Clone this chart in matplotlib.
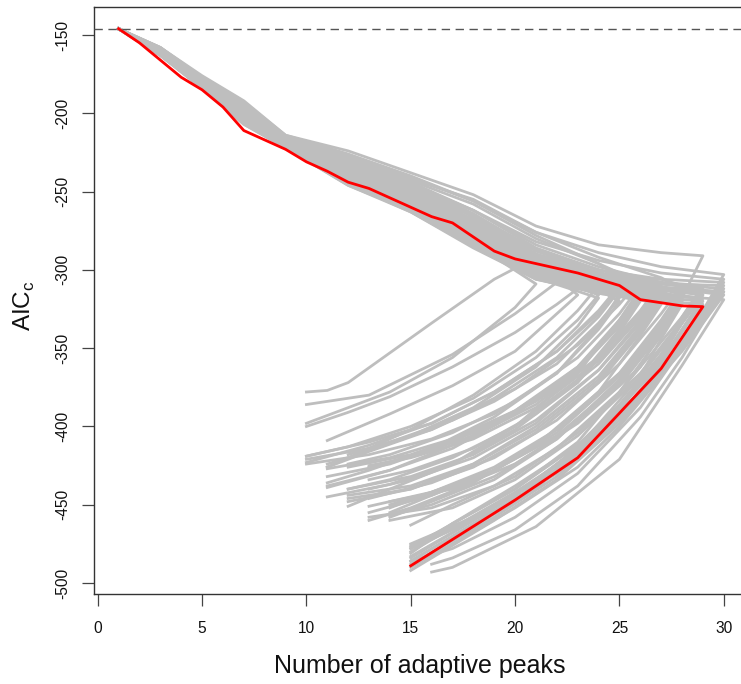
import matplotlib
matplotlib.use("Agg")
import matplotlib.pyplot as plt

plt.rcParams['font.family'] = ['Liberation Sans', 'DejaVu Sans']
plt.rcParams['mathtext.fontset'] = 'custom'
plt.rcParams['mathtext.rm'] = 'Liberation Sans'

# ---------------- data ----------------
baseline_aic = -146.2

# best run (red): forward search then backward search
red_fwd_x = list(range(1, 30))
red_fwd_y = [-146, -155, -166, -177, -185, -196, -211, -217, -223, -231,
             -237, -244, -248, -254, -260, -266, -270, -279, -288, -293,
             -296, -299, -302, -306, -310, -319, -321, -323, -323.5]
red_bwd_x = [27, 23, 20, 15]
red_bwd_y = [-363, -420, -447, -489]

# other runs (gray)
fwd_grid = [1, 3, 5, 7, 9, 12, 15, 18, 21, 24, 27]

gray_xmax = [20, 22, 23, 23, 24, 25, 25, 26, 24, 25,
             26, 26, 27, 27, 26, 27, 28, 28, 27, 28,
             28, 29, 29, 30, 29, 30, 30, 30, 29, 28,
             29, 27, 26, 21, 28, 29, 30, 27, 26, 25,
             26, 27, 28, 25, 27, 28, 29, 30, 29, 28,
             26, 25, 27, 28, 24, 26, 29, 27, 30, 29,
             30, 30, 29]
gray_top = [-299, -308, -312, -316, -316, -318, -312, -318, -310, -316,
            -314, -320, -316, -320, -312, -314, -318, -312, -322, -316,
            -320, -313, -316, -316, -320, -306, -303, -319, -310, -322,
            -291, -308, -306, -309, -315, -318, -314, -317, -315, -313,
            -310, -312, -310, -320, -318, -314, -316, -312, -314, -318,
            -316, -310, -310, -320, -318, -318, -312, -314, -310, -318,
            -308, -314, -322]
gray_fwd = [
    [-146, -160, -180, -198, -218, -232, -248, -272],
    [-146, -161, -181, -200, -219, -236, -252, -270, -298],
    [-146, -162, -182, -203, -220, -238, -255, -276, -300],
    [-146, -159, -179, -196, -216, -230, -246, -266, -294],
    [-146, -160, -181, -201, -219, -240, -258, -280, -302],
    [-146, -163, -183, -205, -221, -242, -260, -282, -304, -312],
    [-146, -158, -178, -194, -215, -228, -244, -262, -286, -300],
    [-146, -161, -182, -202, -220, -237, -254, -274, -296, -308],
    [-146, -162, -180, -199, -218, -235, -250, -268, -292],
    [-146, -160, -182, -204, -221, -244, -262, -284, -305, -312],
    [-146, -159, -179, -197, -217, -231, -247, -266, -290, -302],
    [-146, -163, -184, -206, -222, -245, -263, -285, -306, -314],
    [-146, -161, -180, -200, -219, -234, -251, -270, -292, -304],
    [-146, -162, -183, -204, -221, -241, -259, -280, -300, -311],
    [-146, -158, -177, -193, -214, -226, -240, -256, -278, -296],
    [-146, -160, -179, -198, -217, -229, -243, -258, -280, -296],
    [-146, -161, -182, -203, -220, -238, -256, -277, -298, -308, -314],
    [-146, -159, -178, -195, -216, -228, -242, -255, -276, -292, -305],
    [-146, -163, -184, -207, -222, -246, -262, -283, -304, -314],
    [-146, -160, -181, -201, -219, -236, -252, -272, -294, -306, -312],
    [-146, -162, -183, -205, -221, -243, -261, -282, -303, -313, -318],
    [-146, -159, -178, -196, -216, -230, -245, -262, -284, -298, -308],
    [-146, -161, -181, -202, -219, -239, -257, -278, -300, -309, -313],
    [-146, -160, -180, -199, -218, -233, -249, -268, -290, -303, -311],
    [-146, -162, -184, -206, -222, -244, -262, -284, -304, -313, -318],
    [-146, -159, -179, -197, -217, -232, -246, -262, -282, -294, -302],
    [-146, -158, -177, -194, -215, -227, -241, -256, -276, -289, -298],
    [-146, -161, -182, -203, -220, -240, -258, -280, -302, -311, -316],
    [-146, -160, -180, -200, -218, -235, -252, -272, -294, -304, -308],
    [-146, -163, -184, -207, -222, -246, -263, -286, -306, -315, -320],
    [-146, -158, -176, -192, -214, -224, -238, -252, -272, -284, -289],
    [-146, -160, -180, -199, -218, -233, -250, -269, -291, -302],
    [-146, -161, -181, -201, -219, -236, -253, -273, -295, -303],
    [-146, -162, -183, -204, -221, -242, -260, -283],
    [-146, -160, -181, -200, -219, -237, -255, -275, -297, -307, -312],
    [-146, -161, -182, -202, -220, -240, -258, -279, -301, -310, -315],
    [-146, -159, -179, -198, -217, -234, -250, -270, -292, -304, -311],
    [-146, -162, -182, -203, -220, -239, -256, -276, -298, -309],
    [-146, -160, -180, -200, -218, -236, -252, -271, -294, -306],
    [-146, -161, -181, -202, -219, -238, -255, -276, -298, -308],
    [-146, -160, -180, -199, -218, -234, -251, -270, -292, -302],
    [-146, -161, -181, -201, -219, -236, -253, -272, -294, -304],
    [-146, -159, -179, -198, -217, -232, -248, -266, -288, -300, -306],
    [-146, -162, -183, -204, -221, -242, -260, -281, -303, -313],
    [-146, -160, -181, -201, -219, -238, -256, -277, -299, -310],
    [-146, -161, -182, -202, -220, -237, -254, -274, -296, -307, -311],
    [-146, -160, -180, -200, -218, -236, -253, -273, -295, -306, -312],
    [-146, -159, -179, -198, -217, -233, -249, -268, -290, -302, -309],
    [-146, -161, -182, -203, -220, -239, -257, -278, -300, -310, -313],
    [-146, -162, -183, -205, -221, -243, -261, -282, -303, -313, -316],
    [-146, -160, -181, -202, -219, -239, -257, -278, -300, -310],
    [-146, -159, -178, -196, -216, -230, -246, -264, -288, -302],
    [-146, -159, -179, -197, -217, -231, -247, -265, -287, -300],
    [-146, -162, -184, -206, -222, -245, -262, -284, -305, -314, -318],
    [-146, -161, -182, -203, -220, -240, -258, -281, -305],
    [-146, -162, -183, -204, -221, -242, -260, -281, -303, -312],
    [-146, -160, -180, -199, -218, -234, -251, -271, -293, -304, -309],
    [-146, -161, -181, -200, -219, -235, -252, -271, -293, -305],
    [-146, -160, -181, -200, -219, -236, -253, -272, -294, -305, -309],
    [-146, -162, -183, -205, -221, -243, -261, -283, -304, -314, -317],
    [-146, -160, -180, -199, -218, -235, -252, -271, -293, -303, -306],
    [-146, -161, -182, -202, -220, -238, -256, -276, -298, -309, -312],
    [-146, -162, -184, -206, -222, -244, -262, -285, -305, -315, -320],
]
gray_bwd_x = [
    [19, 16, 12, 11, 10],
    [21, 20, 17, 13, 10],
    [22, 20, 17, 14, 12, 10],
    [22, 20, 17, 14, 11],
    [23, 21, 18, 15, 12, 10],
    [24, 22, 19, 16, 13, 10],
    [24, 22, 19, 16, 13, 10],
    [25, 23, 20, 17, 14, 11],
    [23, 21, 18, 15, 13, 11],
    [24, 22, 19, 16, 13, 11],
    [25, 23, 20, 17, 14, 11],
    [25, 23, 20, 17, 14, 11],
    [26, 24, 21, 18, 15, 12],
    [26, 24, 21, 18, 15, 12],
    [25, 23, 20, 17, 14, 12],
    [26, 24, 21, 18, 15, 13],
    [27, 25, 22, 19, 16, 13],
    [27, 25, 22, 19, 16, 13],
    [26, 24, 21, 18, 15, 13],
    [27, 25, 22, 19, 16, 14],
    [27, 25, 22, 19, 16, 14],
    [28, 26, 23, 20, 17, 15],
    [28, 27, 25, 23, 20, 15],
    [29, 28, 26, 23, 20, 15],
    [28, 27, 24, 21, 18, 15],
    [29, 28, 25, 22, 19, 15],
    [29, 28, 25, 22, 19, 15],
    [29, 28, 25, 21, 17, 16],
    [28, 27, 24, 21, 18, 15],
    [27, 26, 23, 20, 17, 15],
    [28, 27, 25, 22, 19, 16, 14],
    [26, 24, 21, 18, 15, 13],
    [25, 23, 20, 17, 14, 12],
    [20, 17, 14, 12, 10],
    [27, 25, 22, 19, 16, 14],
    [28, 27, 24, 21, 18, 15],
    [29, 28, 25, 22, 19, 16, 15],
    [26, 24, 21, 18, 15, 12],
    [25, 23, 20, 17, 14, 11],
    [24, 22, 19, 16, 13, 11],
    [25, 23, 20, 17, 14, 12],
    [26, 24, 21, 18, 15, 13],
    [27, 25, 22, 19, 16, 13],
    [24, 22, 19, 16, 13, 10],
    [26, 24, 21, 18, 15, 12],
    [27, 25, 22, 19, 16, 14],
    [28, 26, 23, 20, 17, 14],
    [29, 28, 26, 23, 20, 15],
    [28, 27, 25, 23, 20, 15],
    [27, 26, 23, 20, 17, 15],
    [25, 23, 20, 17, 14, 11],
    [24, 22, 19, 16, 13, 10],
    [26, 24, 21, 18, 15, 12],
    [27, 25, 22, 19, 16, 13],
    [23, 21, 18, 15, 12, 11],
    [25, 23, 20, 17, 14, 12],
    [28, 26, 23, 20, 17, 14],
    [26, 24, 21, 18, 15, 13],
    [29, 28, 25, 22, 19, 15],
    [28, 27, 24, 21, 18, 15],
    [29, 28, 26, 23, 20, 17, 15],
    [29, 28, 26, 23, 20, 17, 16],
    [28, 27, 25, 23, 20, 15],
]
gray_bwd_y = [
    [-306, -334, -372, -377, -378],
    [-318, -328, -354, -380, -386],
    [-322, -340, -362, -381, -391, -400],
    [-328, -352, -374, -392, -409],
    [-332, -356, -382, -400, -413, -419],
    [-334, -360, -384, -402, -414, -421],
    [-328, -352, -378, -398, -412, -423],
    [-336, -364, -390, -408, -420, -427],
    [-326, -352, -380, -402, -414, -426],
    [-336, -366, -394, -414, -428, -436],
    [-332, -362, -392, -414, -428, -438],
    [-340, -372, -402, -424, -437, -445],
    [-334, -364, -396, -418, -432, -440],
    [-340, -372, -404, -426, -440, -446],
    [-332, -366, -400, -424, -440, -451],
    [-330, -358, -388, -408, -420, -425],
    [-338, -372, -406, -428, -442, -451],
    [-332, -366, -402, -428, -444, -455],
    [-342, -378, -412, -436, -452, -460],
    [-336, -372, -408, -432, -448, -458],
    [-340, -374, -406, -428, -442, -452],
    [-332, -366, -404, -432, -450, -463],
    [-334, -354, -386, -412, -440, -477],
    [-334, -352, -382, -416, -442, -480],
    [-340, -360, -402, -435, -460, -483],
    [-326, -346, -392, -428, -455, -486],
    [-326, -350, -398, -434, -460, -492],
    [-340, -361, -421, -464, -490, -493],
    [-330, -354, -404, -440, -464, -489],
    [-344, -368, -414, -444, -466, -478],
    [-318, -336, -366, -402, -426, -442, -450],
    [-326, -356, -386, -406, -419, -426],
    [-322, -348, -376, -396, -410, -418],
    [-324, -356, -378, -388, -398],
    [-334, -368, -404, -428, -444, -455],
    [-338, -358, -402, -436, -458, -475],
    [-332, -350, -394, -430, -454, -470, -476],
    [-336, -368, -400, -424, -440, -448],
    [-334, -364, -392, -412, -428, -439],
    [-330, -356, -382, -402, -416, -426],
    [-328, -356, -384, -404, -418, -424],
    [-330, -360, -392, -414, -428, -434],
    [-328, -360, -396, -420, -436, -446],
    [-338, -366, -392, -408, -418, -424],
    [-338, -370, -402, -424, -438, -444],
    [-334, -370, -408, -434, -450, -457],
    [-334, -368, -406, -434, -452, -460],
    [-330, -348, -378, -412, -438, -478],
    [-334, -356, -388, -414, -444, -484],
    [-338, -362, -410, -440, -462, -481],
    [-334, -362, -390, -410, -424, -432],
    [-326, -352, -378, -398, -410, -419],
    [-328, -356, -384, -404, -418, -426],
    [-342, -378, -414, -438, -452, -458],
    [-336, -362, -388, -406, -420, -424],
    [-338, -370, -400, -420, -434, -440],
    [-330, -362, -398, -424, -440, -448],
    [-332, -364, -398, -420, -434, -440],
    [-330, -350, -396, -432, -458, -488],
    [-338, -358, -404, -438, -462, -486],
    [-328, -350, -388, -430, -458, -478, -486],
    [-334, -356, -394, -438, -466, -484, -488],
    [-344, -368, -400, -426, -452, -490],
]

x_ticks = [0, 5, 10, 15, 20, 25, 30]
y_ticks = [-500, -450, -400, -350, -300, -250, -200, -150]

# ---------------- figure ----------------
W, H = 741, 684
fig = plt.figure(figsize=(W / 100, H / 100), dpi=100)
ax_left, ax_right = 94.4, 748.0
ax_top, ax_bot = 7.0, 593.8
ax = fig.add_axes([ax_left / W, 1 - ax_bot / H,
                   (ax_right - ax_left) / W, (ax_bot - ax_top) / H])

gray_col = '#BEBEBE'
for xm, yt, fy, bx, by in zip(gray_xmax, gray_top, gray_fwd, gray_bwd_x, gray_bwd_y):
    fx = [x for x in fwd_grid if x < xm]
    xs = fx[:len(fy)] + [xm] + bx
    ys = fy[:len(fx)] + [yt] + by
    ax.plot(xs, ys, color=gray_col, lw=2.0, solid_joinstyle='round', zorder=2)

ax.plot(red_fwd_x + red_bwd_x, red_fwd_y + red_bwd_y, color='#FF0000', lw=2.0,
        solid_joinstyle='round', zorder=3)

ax.axhline(baseline_aic, color='#555555', lw=1.0, dashes=(6, 4), zorder=4)

ax.set_xlim(-0.16, 31.16)
ax.set_ylim(-506.9, -132.1)

ax.set_xticks(x_ticks)
ax.set_yticks(y_ticks)
ax.set_xticklabels([str(v) for v in x_ticks])
ax.set_yticklabels([str(v) for v in y_ticks])
ax.tick_params(axis='both', direction='out', length=8.5, width=0.9,
               color='#444444', labelsize=11.2, labelcolor='#111111')
ax.tick_params(axis='x', pad=11)
ax.tick_params(axis='y', pad=9, labelrotation=90)
for lbl in ax.get_yticklabels():
    lbl.set_va('center')

for side in ['left', 'bottom', 'top', 'right']:
    ax.spines[side].set_color('#333333')
    ax.spines[side].set_linewidth(1.0)

fig.text(420 / W, 1 - 666 / H, 'Number of adaptive peaks', ha='center', va='center',
         fontsize=18, color='#111111')
fig.text(24 / W, 1 - 306 / H, r'AIC$_{\mathregular{c}}$', ha='center', va='center',
         rotation=90, fontsize=17.5, color='#111111')

fig.savefig('out.png', dpi=100)
